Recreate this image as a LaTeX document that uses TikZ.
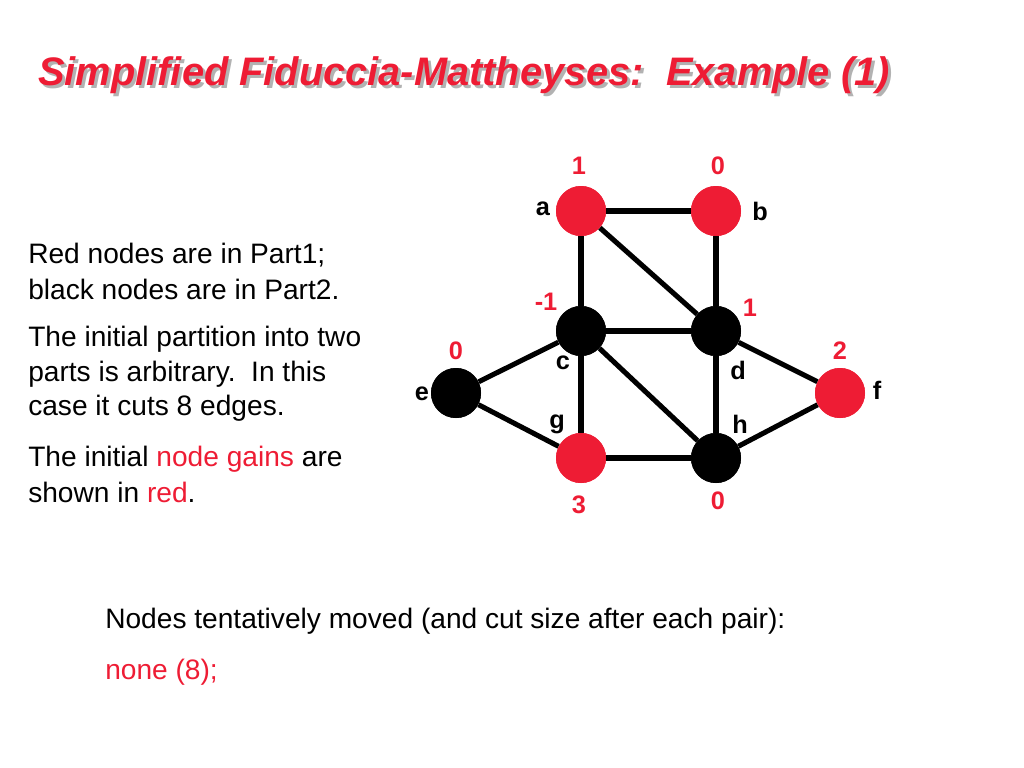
\documentclass[tikz,border=0pt]{standalone}
\usepackage{fontspec}
\setmainfont{Liberation Sans}
\definecolor{myred}{RGB}{238,28,52}
\begin{document}
\begin{tikzpicture}[x=0.025cm,y=-0.025cm,
  rn/.style={circle,fill=myred,minimum size=50*0.025cm,inner sep=0},
  bn/.style={circle,fill=black,minimum size=50*0.025cm,inner sep=0},
  lbl/.style={font=\bfseries\fontsize{18}{21}\selectfont},
  gain/.style={lbl,text=myred},
  txt/.style={anchor=west,font=\fontsize{20}{24}\selectfont,inner sep=0},
  ed/.style={line width=3.6pt}]
\useasboundingbox (0,0) rectangle (1024,768);
\node[anchor=west,inner sep=0,text=gray!60,font=\bfseries\itshape\fontsize{28.3}{32}\selectfont] (tsh) at (41,78) {Simplified Fiduccia-Mattheyses:\ \ Example (1)};
\node[anchor=west,inner sep=0,text=myred,font=\bfseries\itshape\fontsize{28.3}{32}\selectfont] (title) at (38,75) {Simplified Fiduccia-Mattheyses:\ \ Example (1)};
\node[rn] (a) at (581,211) {};
\node[rn] (b) at (716,211) {};
\node[bn] (c) at (581,331) {};
\node[bn] (d) at (716,331) {};
\node[bn] (e) at (456,393) {};
\node[rn] (f) at (840,393) {};
\node[rn] (g) at (581,458) {};
\node[bn] (h) at (716,458) {};
\foreach \u/\v in {a/b,a/c,a/d,b/d,c/d,c/e,c/g,c/h,d/h,d/f,e/g,g/h,h/f}
  \draw[ed] (\u) -- (\v);
\foreach \n in {a,b,f,g} \node[rn] at (\n) {};
\foreach \n in {c,d,e,h} \node[bn] at (\n) {};
\node[gain] (ga) at (579,166) {1};
\node[gain] (gb) at (718,166) {0};
\node[gain] (gc) at (546,302) {-1};
\node[gain] (gd) at (750,308) {1};
\node[gain] (ge) at (456,351) {0};
\node[gain] (gf) at (840,351) {2};
\node[gain] (gg) at (579,505) {3};
\node[gain] (gh) at (718,501) {0};
\node[lbl] (la) at (543,209) {a};
\node[lbl] (lb) at (760,211) {b};
\node[lbl] (lc) at (563,363) {c};
\node[lbl] (ld) at (738,370) {d};
\node[lbl] (le) at (422,394) {e};
\node[lbl] (lf) at (877,390) {f};
\node[lbl] (lg) at (557,424) {g};
\node[lbl] (lh) at (740,424) {h};
\node[txt] (t1) at (28,255) {Red nodes are in Part1;};
\node[txt] (t2) at (28,289) {black nodes are in Part2.};
\node[txt] (t3) at (28,339) {The initial partition into two};
\node[txt] (t4) at (28,374) {parts is arbitrary.\ \ In this};
\node[txt] (t5) at (28,408) {case it cuts 8 edges.};
\node[txt] (t6) at (28,459) {The initial \textcolor{myred}{node gains} are};
\node[txt] (t7) at (28,492) {shown in \textcolor{myred}{red}.};
\node[txt] (t8) at (105,621) {Nodes tentatively moved (and cut size after each pair):};
\node[txt,text=myred] (t9) at (105,672) {none (8);};
\end{tikzpicture}
\end{document}
